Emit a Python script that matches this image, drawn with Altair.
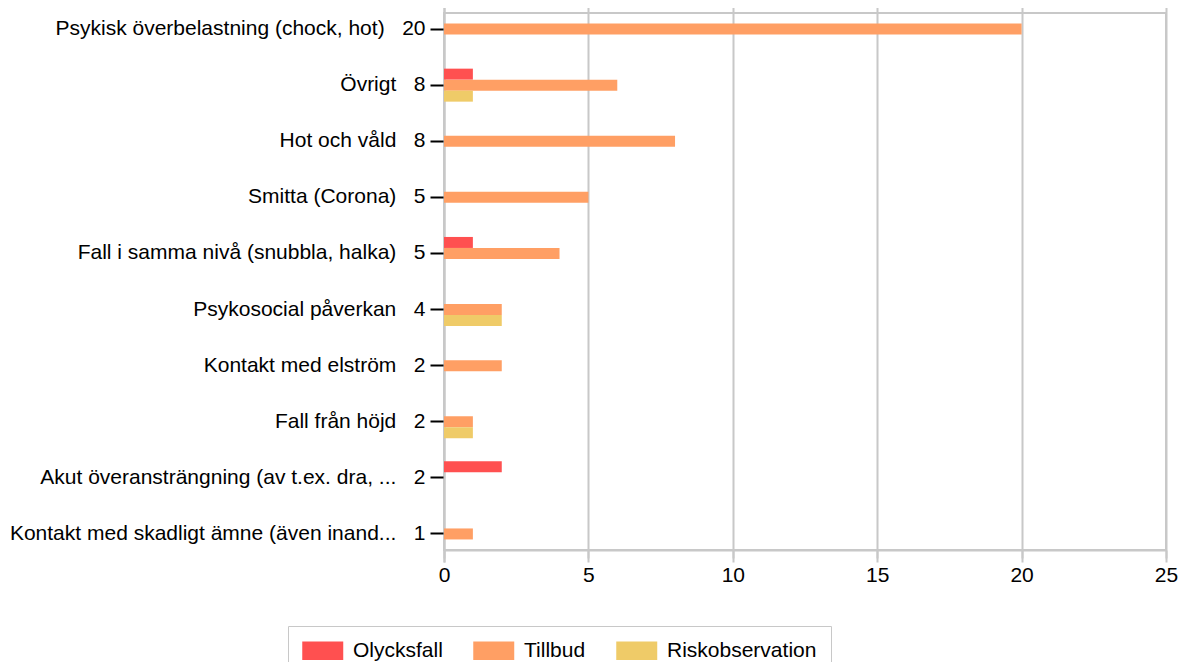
import altair as alt
import pandas as pd

categories = [
    "Psykisk överbelastning (chock, hot)",
    "Övrigt",
    "Hot och våld",
    "Smitta (Corona)",
    "Fall i samma nivå (snubbla, halka)",
    "Psykosocial påverkan",
    "Kontakt med elström",
    "Fall från höjd",
    "Akut överansträngning (av t.ex. dra, ...",
    "Kontakt med skadligt ämne (även inand...",
]
totals = [20, 8, 8, 5, 5, 4, 2, 2, 2, 1]
olycksfall = [0, 1, 0, 0, 1, 0, 0, 0, 2, 0]
tillbud = [20, 6, 8, 5, 4, 2, 2, 1, 0, 1]
riskobservation = [0, 1, 0, 0, 0, 2, 0, 1, 0, 0]

types = ["Olycksfall", "Tillbud", "Riskobservation"]
colors = ["#FF5050", "#FF9F64", "#EFCB68"]

NB = "\u00a0"
labels = [f"{c}{NB*3}{t}" for c, t in zip(categories, totals)]

rows = []
for i, lab in enumerate(labels):
    for typ, vals in zip(types, [olycksfall, tillbud, riskobservation]):
        if vals[i] > 0:
            rows.append({"label": lab, "type": typ, "value": vals[i]})
df = pd.DataFrame(rows)

FONT = "Liberation Sans"

chart = (
    alt.Chart(df)
    .mark_bar()
    .encode(
        x=alt.X(
            "value:Q",
            scale=alt.Scale(domain=[0, 25], nice=False),
            axis=alt.Axis(
                values=[0, 5, 10, 15, 20, 25],
                title=None,
                grid=True,
                gridColor="#c8c8c8",
                gridWidth=2,
                domainColor="#c8c8c8",
                domainWidth=2,
                tickColor="#c8c8c8",
                tickWidth=2,
                tickSize=8,
                labelPadding=6,
                labelFlush=False,
                labelFontSize=21,
                labelFont=FONT,
                labelColor="#000000",
            ),
        ),
        y=alt.Y(
            "label:N",
            sort=labels,
            scale=alt.Scale(paddingInner=0, paddingOuter=0, range=[-12, 549]),
            axis=alt.Axis(
                title=None,
                domainColor="#c8c8c8",
                domainWidth=2,
                tickColor="#000000",
                tickWidth=2,
                tickSize=14,
                labelPadding=5,
                labelFontSize=21,
                labelFont=FONT,
                labelColor="#000000",
                labelLimit=600,
            ),
        ),
        yOffset=alt.YOffset(
            "type:N",
            sort=types,
            scale=alt.Scale(domain=types, paddingInner=0, paddingOuter=0, range=[11.55, 44.55]),
        ),
        color=alt.Color(
            "type:N",
            sort=types,
            scale=alt.Scale(domain=types, range=colors),
            legend=alt.Legend(
                title=None,
                orient="none",
                direction="horizontal",
                legendX=-156,
                legendY=613,
                padding=14,
                strokeColor="#c8c8c8",
                labelFontSize=21,
                labelFont=FONT,
                labelColor="#000000",
                labelOffset=30,
                columnPadding=30,
                symbolType="M-1,-0.9H3V0.9H-1Z",
                symbolSize=420,
                symbolStrokeWidth=0,
                symbolOpacity=1,
            ),
        ),
    )
    .properties(
        width=722,
        height=537,
        autosize=alt.AutoSizeParams(type="none"),
        padding={"left": 436, "top": 5, "right": 12, "bottom": 112},
    )
    .configure_view(stroke="#c8c8c8", strokeWidth=2)
)

chart.save("out.html", embed_options={"renderer": "svg", "actions": False})
